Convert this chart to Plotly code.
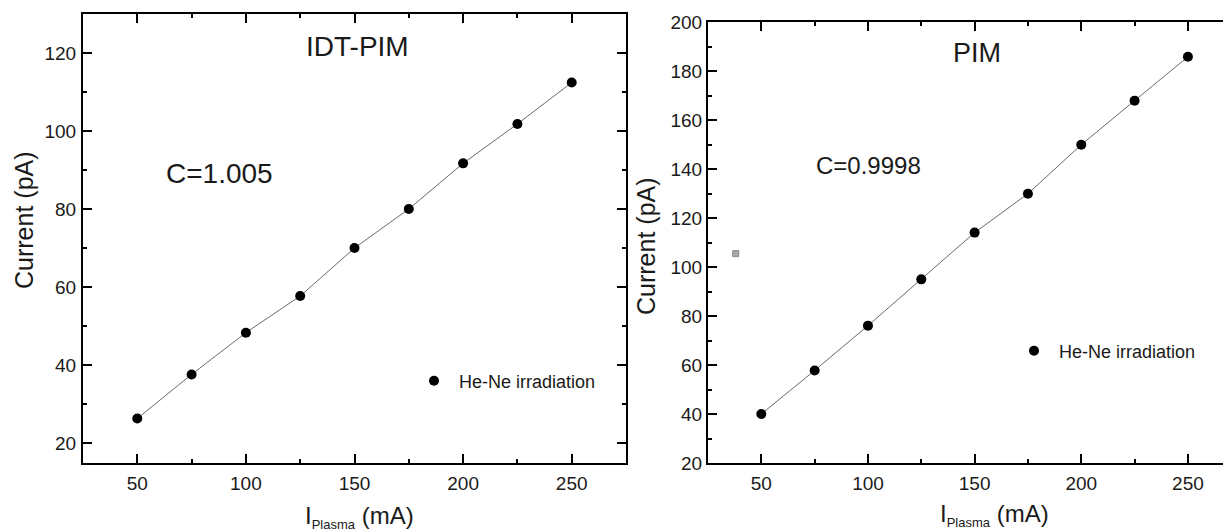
import plotly.graph_objects as go

# ---- data ----
plasma_current_ma = [50, 75, 100, 125, 150, 175, 200, 225, 250]
idt_pim_current_pa = [26.4, 37.7, 48.4, 57.8, 70.1, 80.1, 91.8, 101.9, 112.5]
pim_current_pa = [40.0, 57.8, 76.1, 95.0, 114.1, 130.0, 150.0, 168.0, 185.9]
stray_x = [38]
stray_y = [105.5]

series_name = "He-Ne irradiation"
left_title = "IDT-PIM"
right_title = "PIM"
left_corr = "C=1.005"
right_corr = "C=0.9998"
y_title = "Current (pA)"
x_title = "I<sub><span style='font-size:13px'>Plasma</span></sub> (mA)"

# the page body adds an 8 px offset; the figure is sized to fill the rest
OFF = 8
W, H = 1231 - OFF, 530 - OFF
PB = 463 - OFF  # bottom of plotting area in figure px (margin t = 0)


def px(x):
    """screen x (reference pixels) -> paper x"""
    return (x - OFF) / W


def py(y):
    """screen y (reference pixels) -> paper y"""
    return (PB - (y - OFF)) / PB


FONT = "Liberation Sans, Arial, sans-serif"
TXT = "#1a1a1a"
LINE_C = "#6a6a6a"

fig = go.Figure()

for xa, ya, vals, lg in [("x", "y", idt_pim_current_pa, "legend"),
                         ("x2", "y2", pim_current_pa, "legend2")]:
    fig.add_trace(go.Scatter(
        x=plasma_current_ma, y=vals, mode="lines", showlegend=False,
        xaxis=xa, yaxis=ya, line=dict(color=LINE_C, width=1),
    ))
    fig.add_trace(go.Scatter(
        x=plasma_current_ma, y=vals, mode="markers",
        name=series_name, xaxis=xa, yaxis=ya, legend=lg,
        marker=dict(color="black", size=10, symbol="circle"),
    ))

fig.add_trace(go.Scatter(
    x=stray_x, y=stray_y, mode="markers", showlegend=False,
    xaxis="x2", yaxis="y2",
    marker=dict(color="#a8a8a8", size=6, symbol="square",
                line=dict(color="#8a8a8a", width=1)),
))

common_axis = dict(
    showgrid=False, zeroline=False, showline=True, linecolor="black",
    linewidth=2, ticks="inside", tickcolor="black", tickwidth=2,
    ticklen=9, automargin=False,
    tickfont=dict(family=FONT, size=19, color=TXT),
)


def minor(d, t0):
    return dict(dtick=d, tick0=t0, ticks="inside", ticklen=4,
                tickwidth=2, tickcolor="black")


fig.update_layout(
    width=W, height=H,
    margin=dict(l=0, r=0, t=0, b=H - PB, pad=0),
    paper_bgcolor="white", plot_bgcolor="white",
    font=dict(family=FONT, color=TXT),
    xaxis=dict(domain=[px(83), px(626)], range=[25, 275], dtick=50, tick0=50,
               mirror="ticks", anchor="y", minor=minor(25, 25),
               ticklabelstandoff=2, **common_axis),
    yaxis=dict(domain=[0, py(14.3)], range=[15, 130], dtick=20, tick0=20,
               mirror="ticks", anchor="x", minor=minor(10, 10),
               ticklabelstandoff=1, **common_axis),
    xaxis2=dict(domain=[px(708), 1], range=[25, 270.2], dtick=50, tick0=50,
                mirror="ticks", anchor="y2", minor=minor(25, 25),
                ticklabelstandoff=2, **common_axis),
    yaxis2=dict(domain=[0, py(22.3)], range=[20, 200], dtick=20, tick0=20,
                mirror=False, anchor="x2", minor=minor(10, 10),
                ticklabelstandoff=0, **common_axis),
    legend=dict(x=px(409), y=py(381), xanchor="left", yanchor="middle",
                bgcolor="rgba(0,0,0,0)", borderwidth=0, itemwidth=40,
                font=dict(family=FONT, size=18, color=TXT)),
    legend2=dict(x=px(1009), y=py(351), xanchor="left", yanchor="middle",
                 bgcolor="rgba(0,0,0,0)", borderwidth=0, itemwidth=40,
                 font=dict(family=FONT, size=18, color=TXT)),
)

ann = []


def add_text(text, x, y, size, angle=0):
    ann.append(dict(text=text, x=px(x), y=py(y), xref="paper", yref="paper",
                    xanchor="center", yanchor="middle", showarrow=False,
                    textangle=angle,
                    font=dict(family=FONT, size=size, color=TXT)))


add_text(left_title, 357, 46, 28)
add_text(right_title, 977, 53, 27)
add_text(left_corr, 219, 173, 28)
add_text(right_corr, 868, 165, 24)
add_text(y_title, 24, 220, 25, -90)
add_text(y_title, 646, 246, 25, -90)
add_text(x_title, 359, 517, 24)
add_text(x_title, 994, 515, 24)

fig.update_layout(annotations=ann)

fig.write_html("out.html")
